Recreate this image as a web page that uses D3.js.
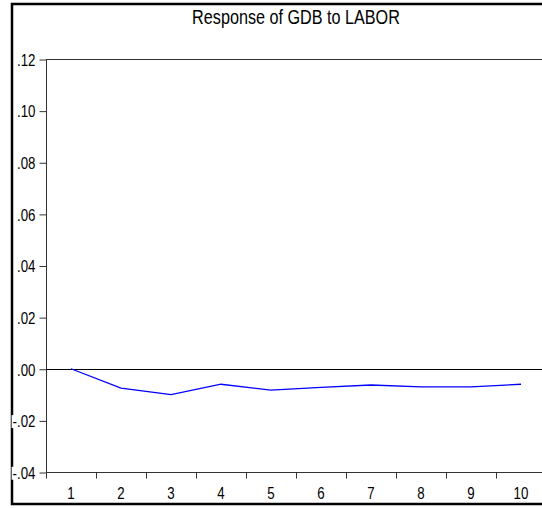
<!DOCTYPE html>
<html>
<head>
<meta charset="utf-8">
<script src="https://cdn.jsdelivr.net/npm/d3@7"></script>
<style>
  html, body { margin: 0; padding: 0; background: #fff; }
  svg { display: block; }
  text { font-family: "Liberation Sans", Arial, sans-serif; fill: #000; }
</style>
</head>
<body>
<svg id="chart" width="542" height="508"></svg>
<script>
const title = "Response of GDB to LABOR";
const periods = [1, 2, 3, 4, 5, 6, 7, 8, 9, 10];
const response = [0.0000, -0.0075, -0.0100, -0.0060, -0.0083, -0.0072, -0.0063, -0.0070, -0.0070, -0.0060];
const yTickValues = [0.12, 0.10, 0.08, 0.06, 0.04, 0.02, 0.00, -0.02, -0.04];
const yTickLabels = [".12", ".10", ".08", ".06", ".04", ".02", ".00", "-.02", "-.04"];

const NARROW = 0.83; // emulate a narrow sans face
function condense(sel) {
  sel.each(function () {
    const len = this.getComputedTextLength();
    d3.select(this).attr("textLength", len * NARROW).attr("lengthAdjust", "spacingAndGlyphs");
  });
}

const svg = d3.select("#chart");
const plot = { left: 46, top: 59, right: 546, bottom: 472 };

// outer frame (extends beyond the visible window on the right)
svg.append("rect")
  .attr("x", 12).attr("y", 4)
  .attr("width", 560).attr("height", 500)
  .attr("fill", "none").attr("stroke", "#000").attr("stroke-width", 2.5);

const x = d3.scaleBand().domain(periods).range([plot.left, plot.right]);
const y = d3.scaleLinear().domain([-0.04, 0.12]).range([plot.bottom, plot.top]);

// plot box
svg.append("rect")
  .attr("x", plot.left + 0.5).attr("y", plot.top + 0.5)
  .attr("width", plot.right - plot.left).attr("height", plot.bottom - plot.top)
  .attr("fill", "none").attr("stroke", "#333").attr("stroke-width", 1);

// zero line
svg.append("line")
  .attr("x1", plot.left).attr("x2", plot.right)
  .attr("y1", Math.round(y(0)) + 0.5).attr("y2", Math.round(y(0)) + 0.5)
  .attr("stroke", "#000").attr("stroke-width", 1);

// y axis
const yAxis = d3.axisLeft(y)
  .tickValues(yTickValues)
  .tickFormat((d, i) => yTickLabels[i])
  .tickSize(7).tickPadding(4);
const gy = svg.append("g").attr("transform", `translate(${plot.left + 0.5},0.5)`).call(yAxis);
gy.select(".domain").remove();
gy.selectAll(".tick line").attr("stroke", "#333");
const yTexts = gy.selectAll(".tick text")
  .style("font-size", "16px").style("font-family", "'Liberation Sans', Arial, sans-serif")
  .attr("fill", "#000").attr("dy", "0.36em");
yTexts.call(condense);
// white backing behind labels (they sit over the outer frame)
yTexts.each(function () {
  const b = this.getBBox();
  d3.select(this.parentNode).insert("rect", "text")
    .attr("x", b.x - 1).attr("y", b.y + 2)
    .attr("width", b.width + 2).attr("height", b.height - 4)
    .attr("fill", "#fff");
});

// x axis: ticks at band boundaries, labels at band centres
const gx = svg.append("g").attr("transform", `translate(0,${plot.bottom + 0.5})`);
const boundaries = periods.map(p => x(p));
gx.selectAll("line.tk").data(boundaries).join("line")
  .attr("class", "tk")
  .attr("x1", d => Math.round(d) + 0.5).attr("x2", d => Math.round(d) + 0.5)
  .attr("y1", 0).attr("y2", 6)
  .attr("stroke", "#333");
gx.selectAll("text").data(periods).join("text")
  .attr("x", d => x(d) + x.bandwidth() / 2)
  .attr("y", 26)
  .attr("text-anchor", "middle")
  .style("font-size", "16px")
  .text(d => d)
  .call(condense);

// response line
const line = d3.line()
  .x((d, i) => x(periods[i]) + x.bandwidth() / 2)
  .y(d => y(d));
svg.append("path")
  .datum(response)
  .attr("d", line)
  .attr("fill", "none")
  .attr("stroke", "#0000ff")
  .attr("stroke-width", 1.3);

// title
svg.append("text")
  .attr("x", (plot.left + plot.right) / 2)
  .attr("y", 24)
  .attr("text-anchor", "middle")
  .style("font-size", "19.5px")
  .text(title)
  .call(condense);
</script>
</body>
</html>
